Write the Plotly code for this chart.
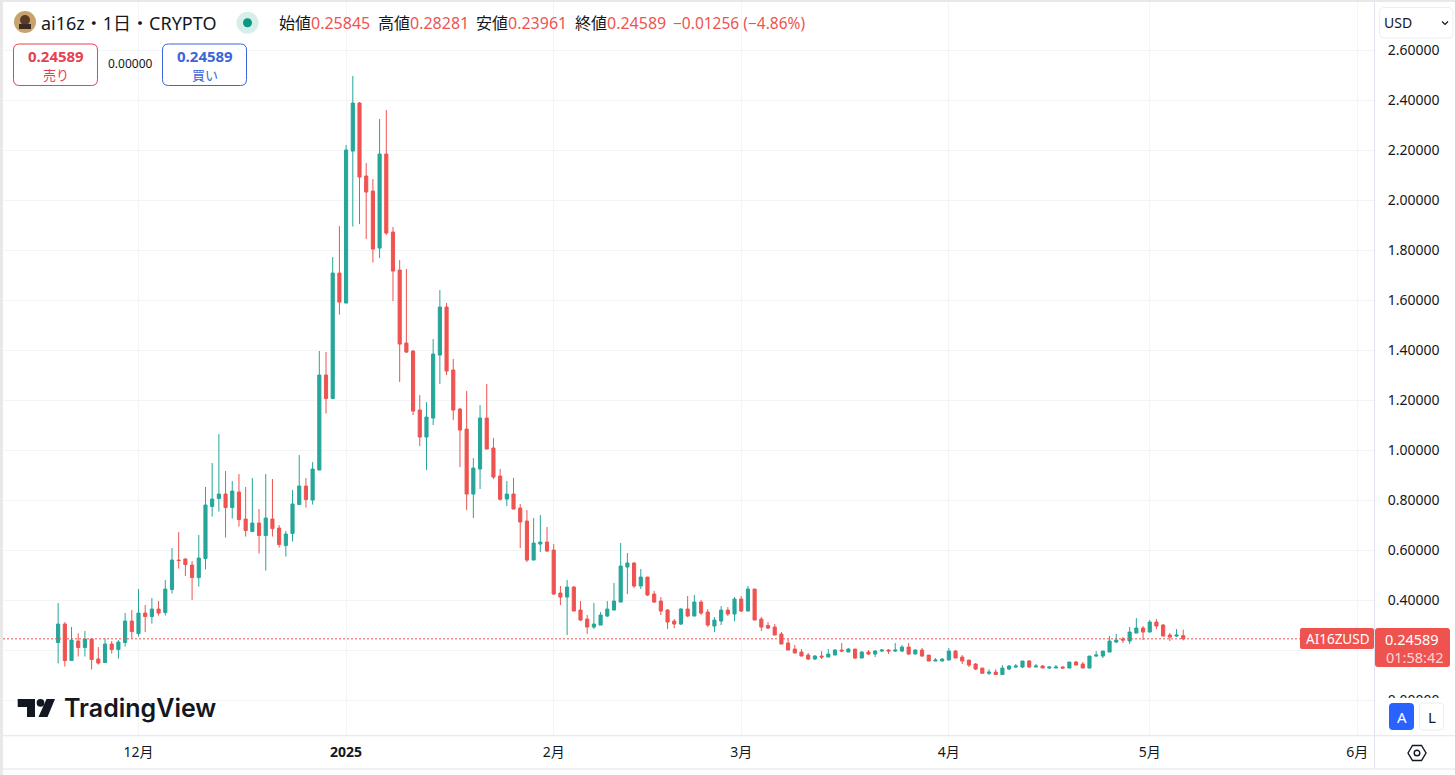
import pandas as pd
import plotly.graph_objects as go

W = 1455
H = 775

# daily candles, first one is 2024-11-19
first_day = "2024-11-19"
opens = [
    .231, .305, .159, .237, .211, .245, .165, .151, .225, .203, .231, .317,
    .267, .349, .335, .365, .351, .443, .561, .565, .541, .491, .567, .775, .807, .825, .771, .833, .725, .675, .709,
    .659, .725, .689, .619, .667, .783, .857, .801, .921, 1.301, 1.207, 1.709,
    1.589, 2.197, 2.389, 2.097, 2.037, 1.809, 2.185, 1.873, 1.721, 1.429, 1.397, 1.161, 1.053, 1.129, 1.381, 1.573,
    1.321, 1.165, 1.085, .825, .925, 1.129, 1.009, .897, .805, .825, .769, .717, .561, .625, .633,
    .601, .429, .413, .453, .361, .325, .293, .301, .337, .361, .393, .533, .549, .457, .493, .425, .397, .361,
    .317, .305, .365, .337, .393, .353, .297, .317, .361, .345,
    .405, .357, .445, .325, .299, .293, .265, .229, .205, .193, .181, .165, .177, .173, .181, .201, .193, .205, .169,
    .193, .185, .197, .201, .197, .197, .213, .185, .201, .181, .157, .157,
    .161, .197, .173, .161, .145, .129, .108, .113, .103, .125, .133, .133, .157, .133, .137, .129, .129, .133, .129,
    .153, .145, .129, .177, .177, .193, .233, .245, .237, .269, .289,
    .273, .313, .301, .261, .257, .25845,
]
highs = [
    .389, .313, .293, .268, .277, .245, .213, .248, .237, .241, .349, .361,
    .445, .381, .409, .397, .481, .609, .673, .569, .557, .661, .853, .949, 1.065, .917, .877, .905, .853, .889, .765,
    .905, .885, .701, .677, .841, .981, .889, .953, 1.397, 1.393, 1.773, 1.897,
    2.221, 2.497, 2.393, 2.149, 2.085, 2.325, 2.361, 1.893, 1.761, 1.725, 1.401, 1.221, 1.193, 1.445, 1.641, 1.589,
    1.365, 1.169, 1.237, .969, 1.181, 1.265, 1.049, .925, .877, .889, .785, .761, .729, .741, .693,
    .625, .457, .481, .457, .397, .341, .389, .353, .397, .469, .629, .589, .553, .525, .493, .437, .413, .365,
    .325, .369, .417, .421, .401, .365, .333, .377, .373, .413,
    .417, .457, .445, .333, .313, .305, .273, .245, .221, .205, .189, .181, .197, .205, .205, .229, .209, .205, .197,
    .201, .201, .205, .205, .229, .221, .229, .205, .209, .181, .169, .169,
    .209, .201, .181, .161, .149, .129, .124, .124, .141, .141, .145, .157, .161, .145, .141, .137, .141, .137,
    .153, .157, .153, .177, .197, .197, .257, .265, .253, .293, .329,
    .297, .321, .325, .305, .269, .285, .28281,
]
lows = [
    .147, .135, .159, .175, .175, .123, .143, .151, .187, .167, .215, .247,
    .255, .273, .307, .339, .339, .427, .527, .497, .401, .455, .523, .735, .755, .651, .727, .695, .655, .675, .587,
    .519, .655, .611, .575, .635, .783, .771, .783, .921, 1.147, 1.207, 1.543,
    1.589, 1.895, 1.905, 1.845, 1.751, 1.769, 1.861, 1.597, 1.273, 1.389, 1.141, 1.017, .921, 1.101, 1.265, 1.301,
    1.121, .933, .761, .729, .845, 1.005, .885, .799, .777, .765, .609, .553, .561, .593, .593,
    .421, .381, .261, .357, .317, .265, .285, .301, .333, .361, .393, .425, .449, .445, .417, .389, .341, .285,
    .289, .301, .333, .337, .341, .293, .273, .301, .337, .317,
    .353, .357, .321, .277, .285, .261, .225, .201, .189, .177, .161, .161, .165, .173, .181, .193, .193, .165, .169,
    .181, .173, .193, .185, .193, .193, .181, .185, .173, .157, .157, .157,
    .161, .169, .145, .133, .121, .108, .101, .101, .103, .121, .129, .129, .129, .133, .129, .125, .129, .129,
    .129, .141, .129, .129, .173, .169, .193, .229, .229, .225, .269,
    .241, .273, .285, .257, .237, .253, .23961,
]
closes = [
    .305, .159, .241, .211, .245, .163, .149, .225, .203, .233, .317, .275,
    .349, .335, .365, .349, .445, .561, .559, .543, .491, .569, .781, .805, .825, .771, .837, .723, .679, .709, .659,
    .729, .687, .623, .665, .785, .857, .803, .925, 1.301, 1.207, 1.709, 1.593,
    2.201, 2.389, 2.093, 2.033, 1.805, 2.185, 1.869, 1.717, 1.425, 1.393, 1.157, 1.053, 1.133, 1.385, 1.573, 1.317,
    1.161, 1.081, .825, .929, 1.129, 1.005, .893, .804, .825, .765, .713, .561, .629, .633, .597,
    .425, .413, .453, .357, .321, .293, .305, .341, .365, .397, .537, .549, .457, .493, .421, .393, .357, .313,
    .305, .365, .337, .393, .349, .301, .321, .361, .345, .405,
    .357, .445, .321, .293, .289, .261, .225, .201, .189, .177, .165, .177, .173, .185, .201, .197, .205, .169, .193,
    .185, .197, .201, .197, .201, .213, .185, .201, .177, .157, .161, .165,
    .197, .169, .157, .141, .125, .108, .113, .103, .129, .137, .137, .157, .133, .137, .129, .133, .133, .129, .153,
    .141, .129, .177, .181, .197, .237, .241, .241, .273, .289, .273,
    .313, .297, .257, .253, .261, .24589,
]

y_ticks = [0.0, 0.2, 0.4, 0.6, 0.8, 1.0, 1.2, 1.4, 1.6, 1.8, 2.0, 2.2, 2.4, 2.6]
# 0.2 sits behind the price label, so it only keeps its gridline
y_tick_labels = ["0.00000", "", "0.40000", "0.60000", "0.80000", "1.00000", "1.20000",
                 "1.40000", "1.60000", "1.80000", "2.00000", "2.20000", "2.40000", "2.60000"]
month_ticks = ["2024-12-01", "2025-01-01", "2025-02-01", "2025-03-01", "2025-04-01", "2025-05-01", "2025-06-01"]
month_labels = ["12月", "<b>2025</b>", "2月", "3月", "4月", "5月", "6月"]

UP = "#26a69a"
DOWN = "#ef5350"
TEXT = "#131722"
BORDER = "#e0e3eb"
FONT = "Noto Sans, Noto Sans CJK JP, sans-serif"


def px(x):
    return x / W


def py(y):
    return 1 - y / H


def label(text, x, y, size=16, color=TEXT, anchor="left", family=FONT, weight=None):
    return dict(text=text, x=px(x), y=py(y), xref="paper", yref="paper", xanchor=anchor, yanchor="middle",
                showarrow=False, borderpad=0, borderwidth=0,
                font=dict(size=size, color=color, family=family, weight=weight))


def box(x0, y0, x1, y1, fill="rgba(0,0,0,0)", line="rgba(0,0,0,0)", width=1):
    return dict(type="rect", xref="paper", yref="paper", x0=px(x0), x1=px(x1), y0=py(y0), y1=py(y1),
                fillcolor=fill, line=dict(color=line, width=width), layer="above")


def poly(points, fill="rgba(0,0,0,0)", line="rgba(0,0,0,0)", width=1, close=True):
    d = "M" + " L".join("{:.5f},{:.5f}".format(px(a), py(b)) for a, b in points)
    if close:
        d += " Z"
    return dict(type="path", xref="paper", yref="paper", path=d, fillcolor=fill,
                line=dict(color=line, width=width), layer="above")


def rounded(x0, y0, x1, y1, r, fill="#ffffff", line="rgba(0,0,0,0)", width=1):
    def p(a, b):
        return "{:.5f},{:.5f}".format(px(a), py(b))
    d = ("M" + p(x0 + r, y0) + " L" + p(x1 - r, y0) + " Q" + p(x1, y0) + " " + p(x1, y0 + r)
         + " L" + p(x1, y1 - r) + " Q" + p(x1, y1) + " " + p(x1 - r, y1)
         + " L" + p(x0 + r, y1) + " Q" + p(x0, y1) + " " + p(x0, y1 - r)
         + " L" + p(x0, y0 + r) + " Q" + p(x0, y0) + " " + p(x0 + r, y0) + " Z")
    return dict(type="path", xref="paper", yref="paper", path=d, fillcolor=fill,
                line=dict(color=line, width=width), layer="above")


def dot(cx, cy, r, fill, line="rgba(0,0,0,0)", width=1):
    return dict(type="circle", xref="paper", yref="paper", x0=px(cx - r), x1=px(cx + r), y0=py(cy + r), y1=py(cy - r),
                fillcolor=fill, line=dict(color=line, width=width), layer="above")


dates = pd.date_range(first_day, periods=len(closes), freq="D")

trace = go.Candlestick(
    x=dates, open=opens, high=highs, low=lows, close=closes,
    increasing=dict(line=dict(color=UP, width=1), fillcolor=UP),
    decreasing=dict(line=dict(color=DOWN, width=1), fillcolor=DOWN),
    whiskerwidth=0, showlegend=False, hoverinfo="none",
)

# page pixels <-> axis values
left, right, top, bottom = 3, 1374, 2, 735.3
dec1 = pd.Timestamp("2024-12-01")
day_px = 6.697
x_range = [dec1 - pd.Timedelta(days=(138.5 - left) / day_px), dec1 + pd.Timedelta(days=(right - 138.5) / day_px)]
y_range = [0.2 + (650.3 - bottom) * 0.004, 0.2 + (650.3 - top) * 0.004]

shapes = [
    # dotted last price line
    dict(type="line", xref="paper", yref="y", x0=px(left), x1=px(right), y0=closes[-1], y1=closes[-1],
         line=dict(color=DOWN, width=1, dash="2px,2px"), layer="above"),
    # frame
    box(0, 0, 3, H, fill="#e8e8e8"),
    box(0, 0, W, 2, fill="#e8e8e8"),
    box(right + 1, 698, W, bottom, fill="#ffffff"),
    box(left, bottom, W, bottom + 1, fill=BORDER),
    box(left, 768.5, W, 769.5, fill=BORDER),
    box(right, top, right + 1, 769, fill=BORDER),
    # avatar + status
    dot(25, 22, 11, "#c9a36e"),
    dot(25, 20, 5, "#5a3a28"),
    box(19, 24, 31, 29, fill="#3c2a22"),
    dot(247.5, 22.7, 11, "#d7efeb"),
    dot(247.5, 22.7, 4.5, "#089981"),
    # sell / buy boxes
    rounded(13.5, 44, 97.5, 85.5, 6, line="#e5424f"),
    rounded(162.5, 44, 246.5, 85.5, 6, line="#3a66d8"),
    # currency dropdown
    rounded(1379.5, 7.5, 1453, 38, 5, line="#eeeeee"),
    poly([(1442, 21.5), (1445, 24.5), (1448, 21.5)], line=TEXT, width=1.2, close=False),
    # price labels
    rounded(1300, 628, 1374, 649, 2, fill=DOWN),
    rounded(1375, 628, 1450, 667, 3, fill=DOWN),
    # A / L buttons
    rounded(1389, 703, 1414, 730, 4, fill="#2962ff"),
    rounded(1419.5, 703, 1443.5, 730, 4, line="#eeeeee"),
    # settings hexagon
    poly([(1408, 753), (1412.5, 745.5), (1421.5, 745.5), (1426, 753), (1421.5, 760.5), (1412.5, 760.5)],
         line=TEXT, width=1.4),
    dot(1417, 753, 2.8, "#ffffff", line=TEXT, width=1.4),
    # logo
    poly([(17.7, 699), (35, 699), (35, 717), (27, 717), (27, 707), (17.7, 707)], fill=TEXT),
    dot(40.5, 702.8, 3.9, TEXT),
    poly([(46.5, 699), (55, 699), (47.5, 717), (38.5, 717)], fill=TEXT),
]

annotations = [
    label("ai16z・1日・CRYPTO", 41, 23, size=18),
    label("始値", 279, 23), label("0.25845", 311, 23, color=DOWN),
    label("高値", 378, 23), label("0.28281", 410, 23, color=DOWN),
    label("安値", 476, 23), label("0.23961", 508, 23, color=DOWN),
    label("終値", 575, 23), label("0.24589", 607, 23, color=DOWN),
    label("−0.01256 (−4.86%)", 673, 23, size=15.5, color=DOWN),
    label("<b>0.24589</b>", 55.5, 56, size=15, color="#e5424f", anchor="center"),
    label("売り", 55.5, 75, size=13, color="#e5424f", anchor="center"),
    label("0.00000", 130, 63, size=12, anchor="center"),
    label("<b>0.24589</b>", 204.5, 56, size=15, color="#3a66d8", anchor="center"),
    label("買い", 204.5, 75, size=13, color="#3a66d8", anchor="center"),
    label("USD", 1384, 23, size=14),
    label("AI16ZUSD", 1337.5, 638.5, size=13.5, color="#ffffff", anchor="center"),
    label("0.24589", 1412, 638.5, size=14.5, color="#ffffff", anchor="center"),
    label("01:58:42", 1415, 657, size=14.5, color="#fbd5d4", anchor="center"),
    label("A", 1401.5, 717, size=15, color="#ffffff", anchor="center"),
    label("L", 1431.5, 717, size=15, anchor="center"),
    label("TradingView", 64, 708, size=25, family="Inter, sans-serif", weight=600),
]

layout = go.Layout(
    width=W,
    height=H,
    margin=dict(t=0, b=0, l=0, r=0),
    showlegend=False,
    paper_bgcolor="#ffffff",
    plot_bgcolor="#ffffff",
    font=dict(family=FONT, size=14, color=TEXT),
    boxgap=0.33,
    xaxis=dict(
        type="date", domain=[px(left), px(right)], range=x_range, rangeslider=dict(visible=False),
        tickmode="array", tickvals=month_ticks, ticktext=month_labels,
        showgrid=True, gridcolor="#f3f4f6", gridwidth=1, zeroline=False, showline=False,
        ticks="outside", ticklen=4, tickcolor="rgba(0,0,0,0)", tickfont=dict(size=14, color=TEXT),
        tickangle=0,
    ),
    yaxis=dict(
        side="right", domain=[py(bottom), py(top)], range=y_range,
        tickmode="array", tickvals=y_ticks, ticktext=y_tick_labels,
        showgrid=True, gridcolor="#f3f4f6", gridwidth=1, zeroline=False, showline=False,
        ticks="outside", ticklen=10, tickcolor="rgba(0,0,0,0)", tickfont=dict(size=14, color=TEXT),
    ),
    shapes=shapes,
    annotations=annotations,
)

fig = go.Figure(data=[trace], layout=layout)
fig.write_html("out.html", config=dict(displayModeBar=False),
               post_script="document.body.style.margin='0';document.body.style.overflow='hidden';")
